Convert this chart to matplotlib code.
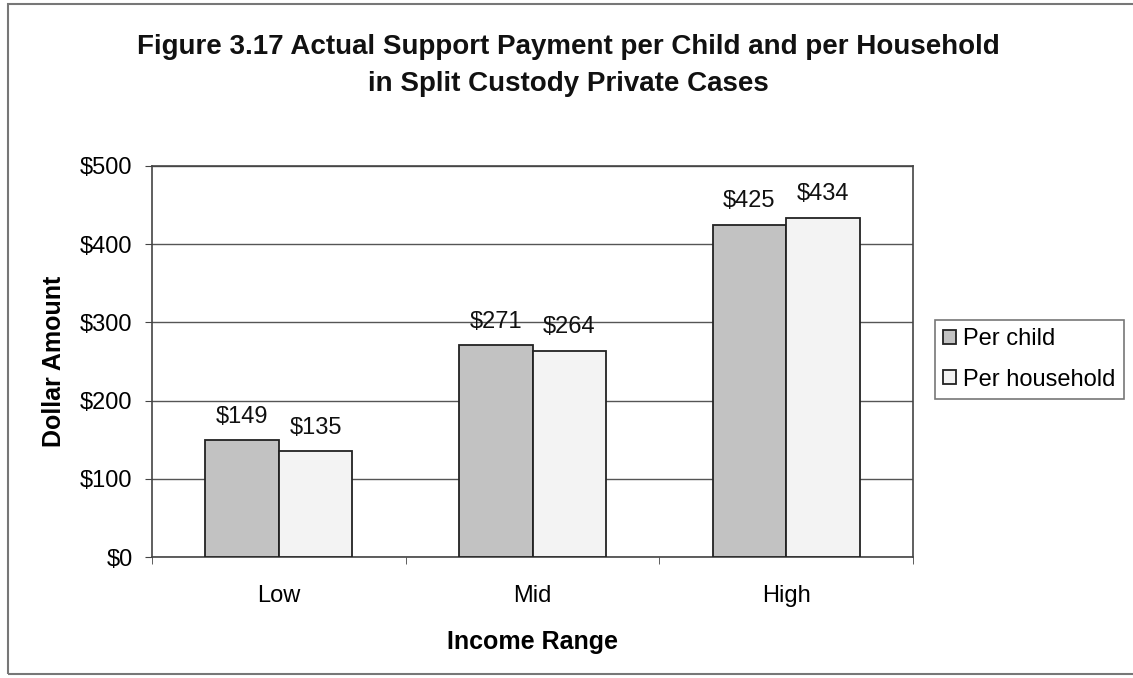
import matplotlib
matplotlib.use("Agg")
import matplotlib.pyplot as plt
from matplotlib.patches import Rectangle
import numpy as np

categories = ["Low", "Mid", "High"]
per_child = [149, 271, 425]
per_household = [135, 264, 434]
series_names = ["Per child", "Per household"]
yticks = [0, 100, 200, 300, 400, 500]

plt.rcParams['font.family'] = ['Liberation Sans', 'DejaVu Sans']

fig = plt.figure(figsize=(11.33, 6.78), dpi=100)
ax = fig.add_axes([152/1133, 1-557/678, (913-152)/1133, (557-166)/678])

x = np.arange(len(categories))
w = 0.29
c1 = '#c2c2c2'
c2 = '#f3f3f3'
b1 = ax.bar(x - w/2, per_child, w, color=c1, edgecolor='#222222', linewidth=1.3, zorder=3)
b2 = ax.bar(x + w/2, per_household, w, color=c2, edgecolor='#222222', linewidth=1.3, zorder=3)

for bars, vals in ((b1, per_child), (b2, per_household)):
    for rect, v in zip(bars, vals):
        ax.text(rect.get_x() + rect.get_width()/2, v + 16, f"${v}",
                ha='center', va='bottom', fontsize=17, color='#111111')

ax.set_xlim(-0.5, 2.5)
ax.set_ylim(0, 500)
ax.set_yticks(yticks)
ax.set_yticklabels([f"${t}" for t in yticks], fontsize=17)
ax.set_xticks(x)
ax.set_xticklabels(categories, fontsize=17)
ax.set_xticks([-0.5, 0.5, 1.5, 2.5], minor=True)
ax.tick_params(axis='x', which='major', length=0, pad=20)
ax.tick_params(axis='x', which='minor', length=5, direction='out', color='#444444')
ax.tick_params(axis='y', length=5, direction='out', color='#444444', pad=9)
ax.yaxis.grid(True, color='#555555', linewidth=1.0, zorder=0)
ax.set_axisbelow(True)
for s in ax.spines.values():
    s.set_color('#444444')
    s.set_linewidth(1.2)

ax.set_xlabel("Income Range", fontsize=18, fontweight='bold', labelpad=17)
ax.set_ylabel("Dollar Amount", fontsize=18, fontweight='bold', labelpad=10)

fig.text(568/1133, 1-47/678, "Figure 3.17 Actual Support Payment per Child and per Household",
         ha='center', va='center', fontsize=20, fontweight='bold', color='#111111')
fig.text(568/1133, 1-84/678, "in Split Custody Private Cases",
         ha='center', va='center', fontsize=20, fontweight='bold', color='#111111')

leg = fig.legend([b1[0], b2[0]], series_names, loc='upper left',
                 bbox_to_anchor=(935/1133, 1-320/678), fontsize=17,
                 frameon=True, fancybox=False, edgecolor='#555555',
                 handlelength=0.55, handleheight=0.55, handletextpad=0.3,
                 borderpad=0.35, labelspacing=0.78, borderaxespad=0)
leg.get_frame().set_linewidth(1.2)

# outer chart border
fig.patches.append(Rectangle((8/1133, 4/678), 1133/1133, 670/678, transform=fig.transFigure,
                             fill=False, edgecolor='#777777', linewidth=1.5))

fig.savefig("out.png", dpi=100)
